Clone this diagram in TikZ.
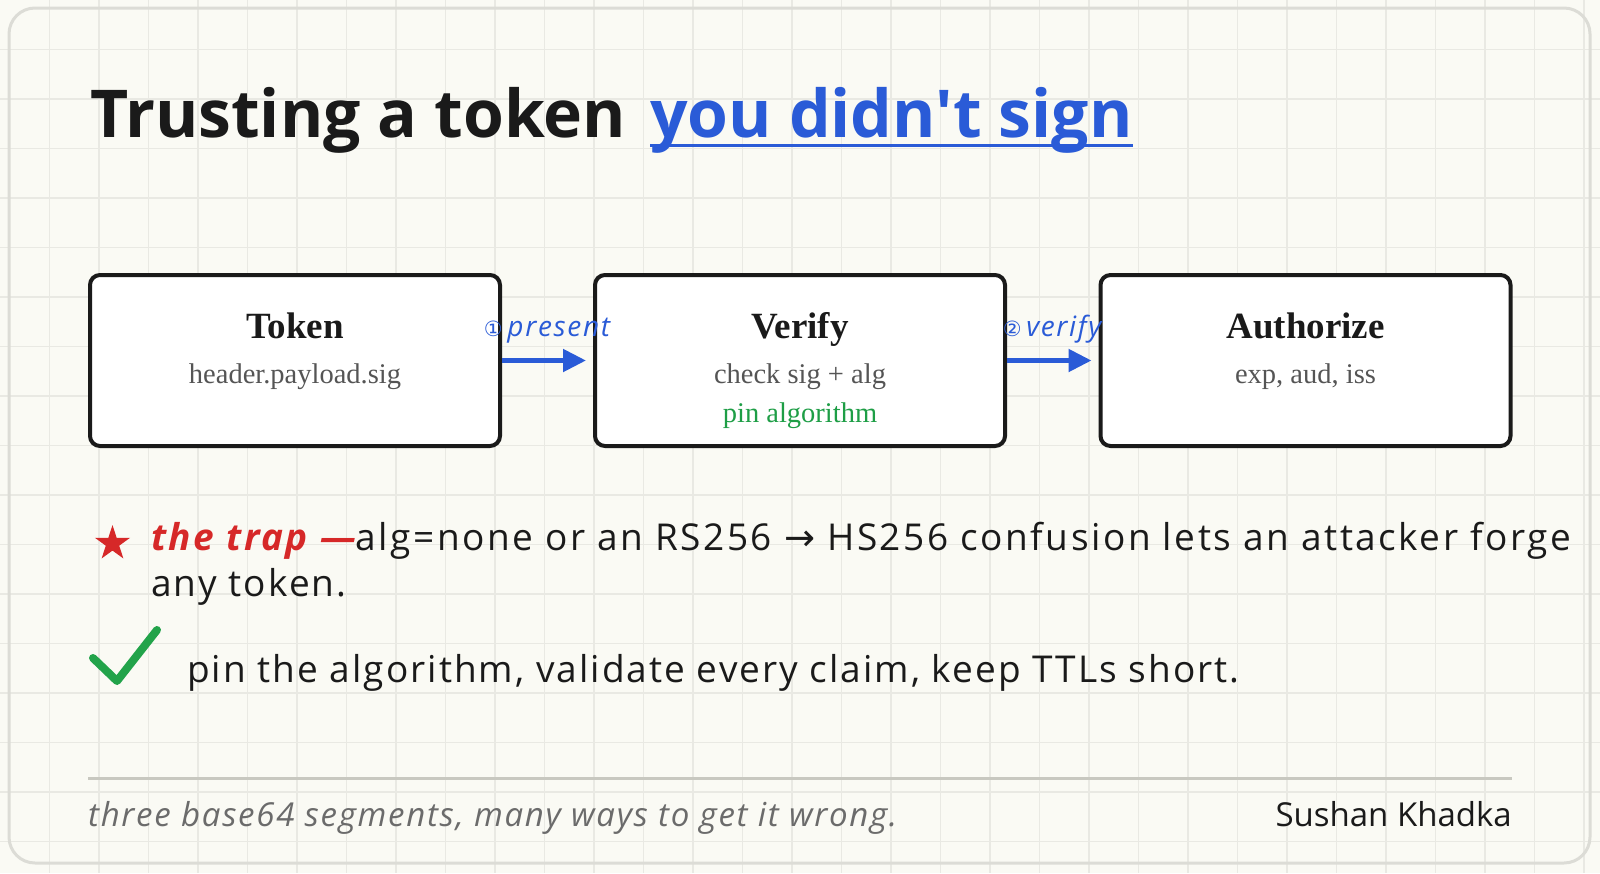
\documentclass[tikz,border=0pt]{standalone}
\usepackage{fontspec}
\setmainfont{Liberation Serif}
\newfontfamily\hand{Open Sans}
\newfontfamily\handw{Open Sans}[LetterSpace=5.5]
\newfontfamily\handx{Open Sans}[LetterSpace=6.8]
\newfontfamily\handf{Open Sans}[LetterSpace=5.2]
\newfontfamily\handl{Open Sans}[LetterSpace=6]
\newfontfamily\sym{DejaVu Sans}
\usetikzlibrary{arrows.meta,shapes.geometric}
\definecolor{bgc}{HTML}{FAFAF4}
\definecolor{gridc}{HTML}{E9E9E3}
\definecolor{framec}{HTML}{DCDCD6}
\definecolor{ink}{HTML}{1A1A1A}
\definecolor{blu}{HTML}{2A5BD7}
\definecolor{grn}{HTML}{1E9E46}
\definecolor{chk}{HTML}{22A34A}
\definecolor{redc}{HTML}{D62828}
\definecolor{subc}{HTML}{555555}
\definecolor{footc}{HTML}{6B6B6B}
\definecolor{rulec}{HTML}{C8C8C0}
\tikzset{
  gridline/.style={gridc, line width=1.2pt},
  card/.style={draw=ink, line width=4pt, rounded corners=10pt, fill=white,
    minimum width=410pt, minimum height=171pt, inner sep=0pt},
  cardtitle/.style={anchor=base, inner sep=0pt, text=ink, font=\fontsize{37}{40}\selectfont\bfseries},
  cardsub/.style={anchor=base, inner sep=0pt, text=subc, font=\fontsize{28.5}{32}\selectfont},
  flow/.style={blu, line width=5pt, -{Triangle[length=23pt,width=22pt]}, shorten >=7pt},
  flowlabel/.style={anchor=base, inner sep=0pt, text=blu, font=\fontsize{28}{30}\selectfont\handl\itshape},
  bodytext/.style={anchor=base west, inner sep=0pt, text=ink, font=\fontsize{37}{44}\selectfont\handw},
  titletext/.style={anchor=base west, inner sep=0pt, font=\fontsize{66}{72}\selectfont\hand\bfseries},
}
\begin{document}
\begin{tikzpicture}[x=1pt,y=-1pt]
\fill[bgc] (0,0) rectangle (1600,873);
\useasboundingbox (0,0) rectangle (1600,873);
\foreach \i in {1,...,32} \draw[gridline] (\i*49.5,0) -- (\i*49.5,873);
\foreach \j in {1,...,17} \draw[gridline] (0,\j*49.5) -- (1600,\j*49.5);
\draw[framec, line width=3pt, rounded corners=26pt] (9,8) rectangle (1590,863);

% title
\node[titletext, text=ink] (t1) at (90,137) {Trusting a token};
\node[titletext, text=blu] (t2) at (650,137) {you didn't sign};
\draw[blu, line width=3pt] (t2.base west |- 0,145) -- (t2.base east |- 0,145);

% cards
\node[card] (tok) at (295,360.5) {};
\node[card] (ver) at (800,360.5) {};
\node[card] (aut) at (1305.5,360.5) {};

\node[cardtitle] (tokt) at (295,338) {Token};
\node[cardsub] (toks) at (295,383) {header.payload.sig};
\node[cardtitle] (vert) at (800,338) {Verify};
\node[cardsub] (vers) at (800,383) {check sig + alg};
\node[cardsub, text=grn] (verp) at (800,422) {pin algorithm};
\node[cardtitle] (autt) at (1305.5,338) {Authorize};
\node[cardsub] (auts) at (1305.5,383) {exp, aud, iss};

% connectors
\draw[flow] (tok.east) -- (ver.west);
\draw[flow] (ver.east) -- (aut.west);
\node[flowlabel] (l1) at (547,336) {{\sym\fontsize{21}{21}\selectfont ①}\,present};
\node[flowlabel] (l2) at (1052,336) {{\sym\fontsize{21}{21}\selectfont ②}\,verify};

% bullets
\node[star, star points=5, star point ratio=2.618, fill=redc, minimum size=37pt, inner sep=0pt] (star) at (112.5,543.5) {};
\node[bodytext, font=\fontsize{37}{44}\selectfont\handx] (b1) at (151,550) {{\color{redc}\bfseries\itshape the trap —}alg=none or an RS256 {\sym →} HS256 confusion lets an attacker forge};
\node[bodytext] (b2) at (151,596) {any token.};
\draw[chk, line width=8pt, line cap=round, line join=round] (93,658) -- (117,681) -- (157,630);
\node[bodytext] (b3) at (187,682) {pin the algorithm, validate every claim, keep TTLs short.};

% footer
\coordinate (r1) at (88,778);
\coordinate (r2) at (1512,778);
\draw[rulec, line width=3pt] (r1) -- (r2);
\node[anchor=base west, inner sep=0pt, text=footc, font=\fontsize{33}{36}\selectfont\handf\itshape] (f1) at (88,826) {three base64 segments, many ways to get it wrong.};
\node[anchor=base east, inner sep=0pt, text=ink, font=\fontsize{33}{36}\selectfont\hand] (f2) at (1512,826) {Sushan Khadka};
\end{tikzpicture}
\end{document}
